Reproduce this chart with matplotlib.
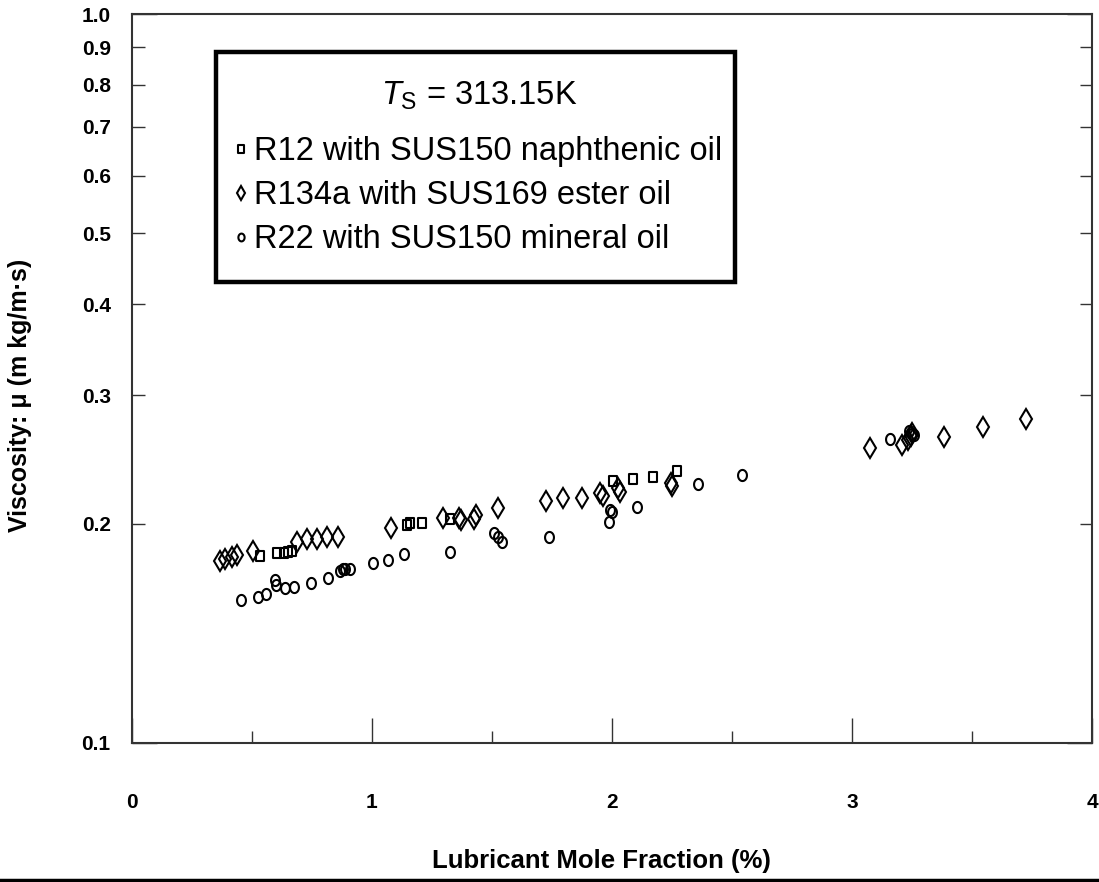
import numpy as np
import matplotlib
matplotlib.use('Agg')
import matplotlib.pyplot as plt
from matplotlib.path import Path
from matplotlib.lines import Line2D
from matplotlib.patches import Rectangle

plt.rcParams['font.family'] = ['Liberation Sans', 'DejaVu Sans']
plt.rcParams['mathtext.fontset'] = 'custom'
plt.rcParams['mathtext.rm'] = 'Liberation Sans'
plt.rcParams['mathtext.it'] = 'Liberation Sans:italic'

# R12 with SUS150 naphthenic oil (squares)
r12_x = [0.535, 0.606, 0.635, 0.652, 0.669, 1.148, 1.158, 1.210, 1.327,
         2.006, 2.090, 2.173, 2.273]
r12_y = [0.1805, 0.1822, 0.1822, 0.1828, 0.1834, 0.1994, 0.2004, 0.2004, 0.2030,
         0.2288, 0.2303, 0.2317, 0.2362]

# R134a with SUS169 ester oil (diamonds)
r134a_x = [0.369, 0.390, 0.419, 0.440, 0.506, 0.690, 0.731, 0.773, 0.815, 0.860,
           1.081, 1.298, 1.365, 1.372, 1.425, 1.435, 1.527, 1.727, 1.798, 1.877,
           1.952, 1.965, 2.028, 2.035, 2.245, 2.250, 3.077, 3.210, 3.235, 3.245,
           3.250, 3.385, 3.548, 3.727]
r134a_y = [0.1777, 0.1788, 0.1799, 0.1811, 0.1834, 0.1887, 0.1905, 0.1905, 0.1917, 0.1917,
           0.1972, 0.2036, 0.2036, 0.2025, 0.2030, 0.2056, 0.2101, 0.2148, 0.2168, 0.2168,
           0.2203, 0.2185, 0.2238, 0.2210, 0.2274, 0.2250, 0.2540, 0.2564, 0.2600, 0.2640,
           0.2662, 0.2629, 0.2713, 0.2782]

# R22 with SUS150 mineral oil (circles)
r22_x = [0.456, 0.527, 0.560, 0.598, 0.602, 0.640, 0.677, 0.748, 0.819, 0.869,
         0.880, 0.890, 0.910, 1.006, 1.069, 1.135, 1.327, 1.510, 1.527, 1.544,
         1.740, 1.990, 1.994, 2.000, 2.106, 2.360, 2.544, 3.160, 3.240, 3.250,
         3.260]
r22_y = [0.1571, 0.1586, 0.1601, 0.1673, 0.1645, 0.1632, 0.1637, 0.1658, 0.1684, 0.1722,
         0.1733, 0.1733, 0.1733, 0.1766, 0.1782, 0.1816, 0.1828, 0.1941, 0.1917, 0.1887,
         0.1917, 0.2010, 0.2087, 0.2075, 0.2108, 0.2267, 0.2332, 0.2612, 0.2680, 0.2650,
         0.2645]

y_major = [0.1, 1.0]
y_minor = [0.2, 0.3, 0.4, 0.5, 0.6, 0.7, 0.8, 0.9]
x_major = [0, 1, 2, 3, 4]
x_minor = [0.5, 1.5, 2.5, 3.5]

# slightly tall oval / box markers like the original
t = np.linspace(0, 2 * np.pi, 40)
oval = Path(np.column_stack([0.8 * np.cos(t), np.sin(t)]), closed=True)
box = Path([(-0.85, -1), (0.85, -1), (0.85, 1), (-0.85, 1), (-0.85, -1)], closed=True)

fig = plt.figure(figsize=(10.99, 8.82), dpi=100)
ax = fig.add_axes([0.1197, 0.1576, 0.8739, 0.8265])

kw = dict(linestyle='none', markerfacecolor='none', markeredgecolor='black',
          markeredgewidth=1.5)
ax.plot(r12_x, r12_y, marker=box, markersize=7.5,
        label='R12 with SUS150 naphthenic oil', **kw)
ax.plot(r134a_x, r134a_y, marker='d', markersize=10.5,
        label='R134a with SUS169 ester oil', **kw)
ax.plot(r22_x, r22_y, marker=oval, markersize=8,
        label='R22 with SUS150 mineral oil', **kw)

ax.set_yscale('log')
ax.set_xlim(0, 4)
ax.set_ylim(0.1, 1.0)

ax.set_yticks(y_major, ['%.1f' % v for v in y_major])
ax.set_yticks(y_minor, ['%.1f' % v for v in y_minor], minor=True)
ax.set_xticks(x_major, [str(v) for v in x_major])
ax.set_xticks(x_minor, [], minor=True)

ax.tick_params(axis='y', which='both', direction='in', left=True, right=True,
               labelsize=15, pad=15, width=1.0, color='#333333')
ax.tick_params(axis='y', which='major', length=18)
ax.tick_params(axis='y', which='minor', length=9)
ax.tick_params(axis='x', which='both', direction='in', bottom=True, top=False,
               labelsize=15, pad=36, width=1.0, color='#333333')
ax.tick_params(axis='x', which='major', length=18)
ax.tick_params(axis='x', which='minor', length=9)
for lab in ax.get_xticklabels() + ax.get_yticklabels(which='both'):
    lab.set_fontweight('bold')

for sp in ax.spines.values():
    sp.set_linewidth(1.5)
    sp.set_color('#333333')

ax.set_xlabel('Lubricant Mole Fraction (%)', fontsize=18.5, fontweight='bold')
ax.xaxis.set_label_coords(0.4888, -0.145)
fig.text(20 / 1099, 1 - 395 / 882, 'Viscosity: μ (m kg/m·s)', rotation=90,
         ha='center', va='center', fontsize=18, fontweight='bold')

# legend frame drawn separately so the padding can match the original
ax.add_patch(Rectangle((0.088, 0.6324), 0.5403, 0.3155, transform=ax.transAxes,
                       facecolor='white', edgecolor='black', linewidth=3.2, zorder=4))
leg = ax.legend(title=r'$T_\mathrm{S}$ = 313.15K', loc='upper left',
                bbox_to_anchor=(0.1088, 0.9095), fontsize=23.5, title_fontsize=23.5,
                frameon=False, handlelength=0.3, handletextpad=0.25,
                labelspacing=0.40, borderpad=0, markerscale=0.7, borderaxespad=0)
leg.set_zorder(5)
leg._legend_box.sep = 17  # extra gap under the title

fig.add_artist(Line2D([0, 1], [1 - 880 / 882] * 2, transform=fig.transFigure,
                      color='black', linewidth=2.5))

fig.savefig('out.png', dpi=100)
